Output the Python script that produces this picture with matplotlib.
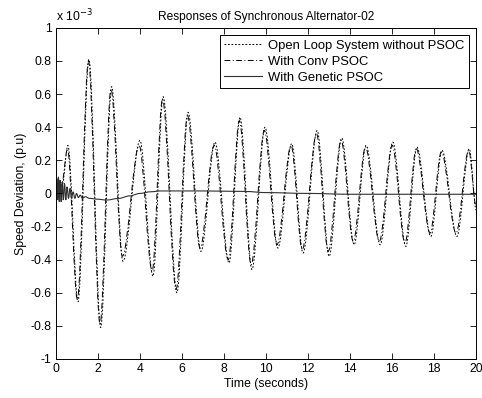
import matplotlib.pyplot as plt
from matplotlib.path import Path
from matplotlib.patches import PathPatch
from matplotlib.lines import Line2D

plt.rcParams['font.family'] = ['Liberation Sans', 'DejaVu Sans']
plt.rcParams['axes.unicode_minus'] = False

# speed deviation in units of 1e-3 p.u., extrema
open_t = [0, 0.15, 0.3, 0.57, 1.05, 1.57, 2.13, 2.65, 3.19, 4.0, 4.62, 5.1,
          5.76, 6.29, 6.9, 7.57, 8.24, 8.76, 9.33, 9.95, 10.56, 11.22, 11.76,
          12.43, 13.0, 13.6, 14.19, 14.76, 15.43, 16.03, 16.65, 17.18, 17.84,
          18.37, 19.08, 19.67, 20.0]
open_v = [0, -0.03, 0.05, 0.29, -0.655, 0.81, -0.81, 0.645, -0.41, 0.32, -0.50,
          0.585, -0.60, 0.49, -0.35, 0.31, -0.42, 0.46, -0.46, 0.40, -0.33,
          0.30, -0.36, 0.38, -0.38, 0.335, -0.31, 0.29, -0.31, 0.31, -0.32,
          0.28, -0.26, 0.26, -0.26, 0.27, -0.10]

conv_t = [0, 0.14, 0.28, 0.55, 1.02, 1.55, 2.1, 2.62, 3.16, 3.96, 4.58, 5.07,
          5.72, 6.26, 6.86, 7.53, 8.2, 8.73, 9.29, 9.92, 10.52, 11.19, 11.72,
          12.4, 12.96, 13.57, 14.15, 14.73, 15.39, 16.0, 16.61, 17.15, 17.8,
          18.34, 19.04, 19.64, 20.0]
conv_v = [0, -0.02, 0.06, 0.27, -0.64, 0.80, -0.79, 0.63, -0.38, 0.29, -0.47,
          0.57, -0.58, 0.47, -0.33, 0.29, -0.40, 0.44, -0.43, 0.38, -0.31,
          0.29, -0.34, 0.36, -0.35, 0.32, -0.29, 0.28, -0.29, 0.29, -0.30,
          0.27, -0.24, 0.25, -0.24, 0.26, -0.08]

gen_t = [0, 0.04, 0.08, 0.12, 0.16, 0.2, 0.25, 0.3, 0.35, 0.41, 0.47, 0.53,
         0.6, 0.67, 0.74, 0.82, 0.9, 0.98, 1.07, 1.16, 1.26, 1.4, 1.6, 2.0,
         2.4, 3.0, 3.5, 4.0, 4.5, 5.0, 7.0, 9.0, 10.0, 12.0, 14.0, 17.0, 20.0]
gen_v = [0, 0.09, -0.04, 0.10, -0.05, 0.08, -0.05, 0.07, -0.04, 0.06, -0.04,
         0.04, -0.03, 0.03, -0.03, 0.01, -0.03, 0.0, -0.025, -0.01, -0.03,
         -0.02, -0.03, -0.035, -0.04, -0.03, -0.015, 0.0, 0.01, 0.015, 0.015,
         0.012, 0.005, 0.0, -0.005, -0.005, -0.005]

x_ticks = [0, 2, 4, 6, 8, 10, 12, 14, 16, 18, 20]
y_ticks = [-1, -0.8, -0.6, -0.4, -0.2, 0, 0.2, 0.4, 0.6, 0.8, 1]
y_labels = ['-1', '-0.8', '-0.6', '-0.4', '-0.2', '0', '0.2', '0.4', '0.6',
            '0.8', '1']


def smooth_path(t, v):
    '''
    curve through the extrema, flat at each turning point (cubic bezier)
    '''
    verts = [(t[0], v[0])]
    codes = [Path.MOVETO]
    for i in range(1, len(t)):
        dt = t[i] - t[i-1]
        verts += [(t[i-1] + dt/3, v[i-1]), (t[i] - dt/3, v[i]), (t[i], v[i])]
        codes += [Path.CURVE4]*3
    return Path(verts, codes)


def main():
    fig = plt.figure(figsize=(4.82, 3.98), dpi=100)
    ax = fig.add_axes([0.116, 0.098, 0.872, 0.832])

    styles = [
        (open_t, open_v, 'black', 0.7, (0, (1.8, 1.8)),
         'Open Loop System without PSOC'),
        (conv_t, conv_v, 'black', 0.7, (0, (6, 2.5, 1, 2.5)),
         'With Conv PSOC'),
        (gen_t, gen_v, '#303030', 0.8, '-', 'With Genetic PSOC'),
    ]
    handles = []
    for t, v, c, lw, ls, lab in styles:
        ax.add_patch(PathPatch(smooth_path(t, v), fill=False, edgecolor=c,
                               lw=lw, ls=ls))
        handles.append(Line2D([], [], color=c, lw=lw, ls=ls, label=lab))

    ax.set_xlim(0, 20)
    ax.set_ylim(-1, 1)
    ax.set_xticks(x_ticks)
    ax.set_yticks(y_ticks, y_labels)
    ax.tick_params(direction='in', top=True, right=True, length=4,
                   width=0.6, labelsize=8.8, pad=3)
    for s in ax.spines.values():
        s.set_linewidth(0.7)

    ax.set_xlabel('Time (seconds)', fontsize=8.8, labelpad=2)
    ax.set_ylabel('Speed Deviation, (p.u)', fontsize=8.8, labelpad=3)
    ax.set_title('Responses of Synchronous Alternator-02', fontsize=8.6, pad=6)
    ax.text(0, 1.012, r'x 10$^{-3}$', transform=ax.transAxes,
            fontsize=8.8, va='bottom', ha='left')

    leg = ax.legend(handles=handles, loc='upper right', fontsize=9.4,
                    handlelength=2.9, handletextpad=0.45, borderaxespad=0.55,
                    borderpad=0.35, fancybox=False, framealpha=1,
                    edgecolor='black', labelspacing=0.3)
    leg.get_frame().set_linewidth(0.7)

    fig.savefig('out.png', dpi=100)


if __name__ == '__main__':
    main()
